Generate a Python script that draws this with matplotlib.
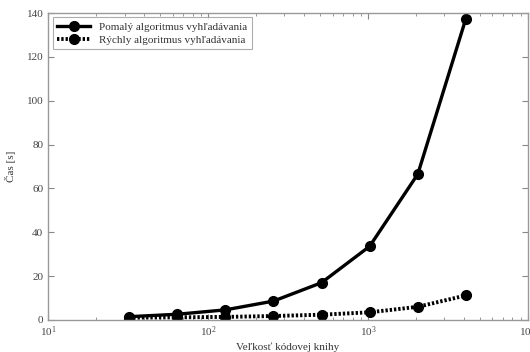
import numpy as np
import matplotlib.pyplot as plt

# velkost kodovej knihy vs. cas
velkost = [32, 64, 128, 256, 512, 1024, 2048, 4096]
pomaly = [1.5, 2.6, 4.6, 8.6, 17.0, 33.6, 66.5, 137.5]
rychly = [1.0, 1.2, 1.4, 1.8, 2.4, 3.5, 6.0, 11.2]

plt.rcParams['font.family'] = ['Liberation Serif', 'DejaVu Serif']

fig = plt.figure(figsize=(5.3, 3.52), dpi=100)
ax = fig.add_axes([0.091, 0.091, 0.905, 0.872])

ax.plot(velkost, pomaly, '-', color='k', lw=2.4, marker='o', ms=7,
        label='Pomalý algoritmus vyhľadávania')
ax.plot(velkost, rychly, color='k', lw=2.8, marker='o', ms=7,
        linestyle=(0, (0.6, 0.5)),
        label='Rýchly algoritmus vyhľadávania')

ax.set_xscale('log')
ax.set_xlim(10, 10000)
ax.set_ylim(0, 140)
ax.set_yticks(np.arange(0, 141, 20))

for s in ax.spines.values():
    s.set_color('#999999')
    s.set_linewidth(1.0)
ax.tick_params(which='both', direction='in', top=True, right=True,
               colors='#888888', labelcolor='#444444', labelsize=8)
ax.tick_params(which='major', length=4)
ax.tick_params(which='minor', length=2)

ax.set_xlabel('Veľkosť kódovej knihy', fontsize=8, color='#333333', labelpad=2)
ax.set_ylabel('Čas [s]', fontsize=8, color='#333333', labelpad=8)

leg = ax.legend(loc='upper left', fontsize=8, frameon=True, fancybox=False,
                edgecolor='#999999', borderpad=0.4, labelspacing=0.3,
                handlelength=3.0, borderaxespad=0.4)
leg.get_frame().set_linewidth(0.8)
for t in leg.get_texts():
    t.set_color('#333333')

fig.savefig('out.png', dpi=100)
